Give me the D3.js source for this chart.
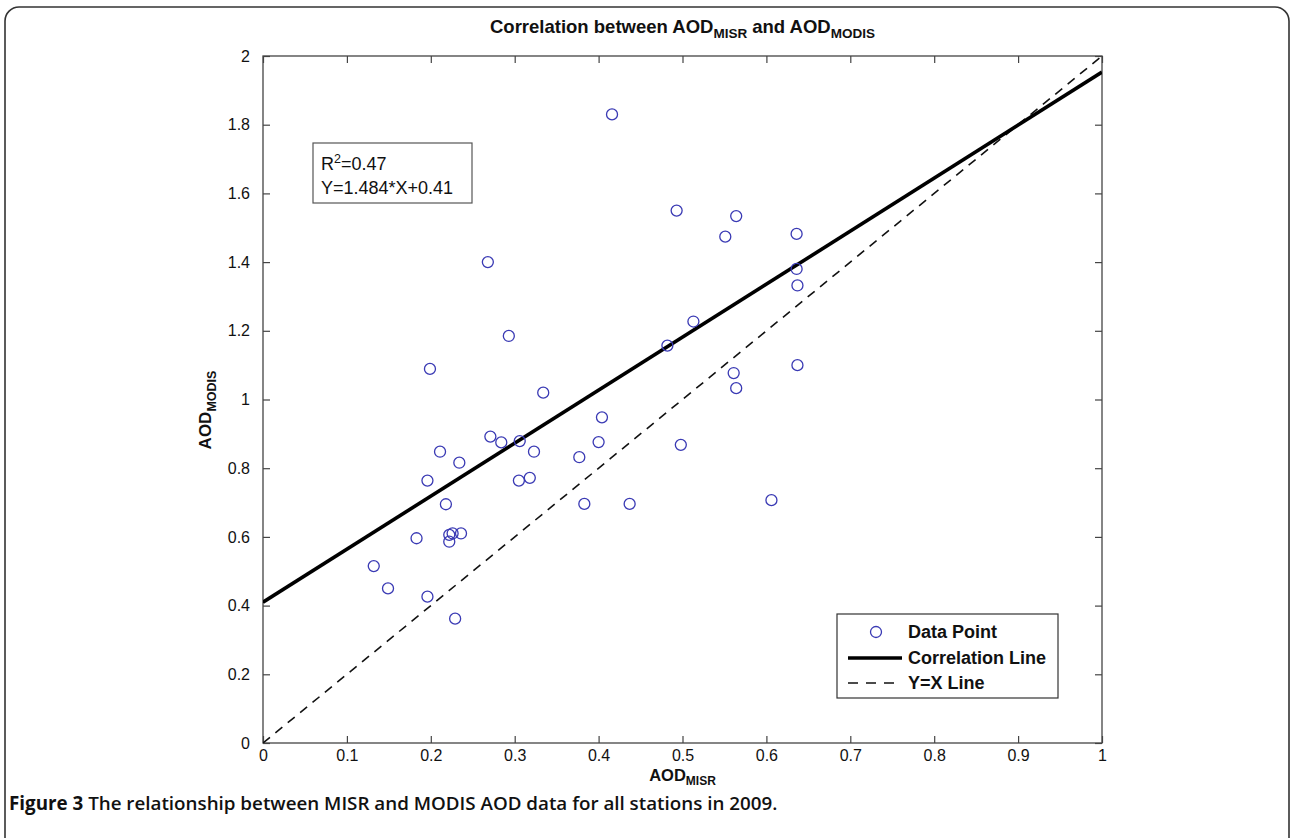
<!DOCTYPE html>
<html>
<head>
<meta charset="utf-8">
<script src="https://cdn.jsdelivr.net/npm/d3@7"></script>
<style>
  html, body { margin: 0; padding: 0; background: #fff; }
  svg { display: block; }
  text { font-family: "Liberation Sans", Arial, sans-serif; fill: #111; }
</style>
</head>
<body>
<svg id="chart" width="1292" height="838"></svg>
<script>
// ---- Data ----
const misr = [0.132,0.149,0.196,0.229,0.183,0.222,0.222,0.226,0.236,0.218,
              0.196,0.211,0.234,0.271,0.284,0.306,0.323,0.305,0.318,
              0.268,0.293,0.199,0.334,
              0.416,0.493,0.513,0.482,0.404,0.400,0.377,0.383,0.437,0.498,
              0.564,0.551,0.636,0.636,0.637,0.561,0.564,0.637,0.606];
const modis = [0.515,0.450,0.426,0.362,0.596,0.586,0.606,0.610,0.610,0.695,
               0.764,0.848,0.816,0.892,0.875,0.879,0.848,0.764,0.772,
               1.400,1.185,1.089,1.020,
               1.830,1.550,1.227,1.157,0.948,0.876,0.832,0.696,0.696,0.868,
               1.534,1.474,1.482,1.380,1.332,1.077,1.033,1.100,0.707];
const fitX = [0, 1];
const fitY = [0.41, 1.953];
const idX = [0, 1];
const idY = [0, 2];
const xTicks = [0,0.1,0.2,0.3,0.4,0.5,0.6,0.7,0.8,0.9,1];
const yTicks = [0,0.2,0.4,0.6,0.8,1,1.2,1.4,1.6,1.8,2];
const legendLabels = ["Data Point", "Correlation Line", "Y=X Line"];
const statLines = ["R", "Y=1.484*X+0.41"];

// ---- Layout ----
const svg = d3.select("#chart");
const L = 263, R = 1102, T = 56, B = 743;
const x = d3.scaleLinear().domain([0,1]).range([L,R]);
const y = d3.scaleLinear().domain([0,2]).range([B,T]);
const axisColor = "#444";
const blue = "#3a3ab4";

// outer frame
svg.append("rect").attr("x",5).attr("y",7).attr("width",1284).attr("height",860)
  .attr("rx",14).attr("fill","none").attr("stroke","#333").attr("stroke-width",1.6);

// axes
const tickLen = 7;
function styleAxis(g){
  g.selectAll(".domain").remove();
  g.selectAll(".tick line").attr("stroke",axisColor).attr("stroke-width",1.2);
  g.selectAll(".tick text").attr("font-size",16).attr("font-family","Liberation Sans, Arial, sans-serif").attr("fill","#111");
}
const fmt = d => d3.format("~g")(d);
svg.append("g").attr("transform",`translate(0,${B})`)
  .call(d3.axisBottom(x).tickValues(xTicks).tickFormat(fmt).tickSizeInner(-tickLen).tickSizeOuter(0).tickPadding(7))
  .call(styleAxis);
svg.append("g").attr("transform",`translate(0,${T})`)
  .call(d3.axisTop(x).tickValues(xTicks).tickFormat("").tickSizeInner(-tickLen).tickSizeOuter(0))
  .call(styleAxis);
svg.append("g").attr("transform",`translate(${L},0)`)
  .call(d3.axisLeft(y).tickValues(yTicks).tickFormat(fmt).tickSizeInner(-tickLen).tickSizeOuter(0).tickPadding(13))
  .call(styleAxis);
svg.append("g").attr("transform",`translate(${R},0)`)
  .call(d3.axisRight(y).tickValues(yTicks).tickFormat("").tickSizeInner(-tickLen).tickSizeOuter(0))
  .call(styleAxis);
// box
svg.append("rect").attr("x",L).attr("y",T).attr("width",R-L).attr("height",B-T)
  .attr("fill","none").attr("stroke",axisColor).attr("stroke-width",1.3);

// lines
svg.append("clipPath").attr("id","pa").append("rect")
  .attr("x",L).attr("y",T).attr("width",R-L).attr("height",B-T);
const line = d3.line().x(d=>x(d[0])).y(d=>y(d[1]));
svg.append("path").datum(idX.map((v,i)=>[v,idY[i]])).attr("d",line)
  .attr("fill","none").attr("stroke","#111").attr("stroke-width",1.6).attr("stroke-dasharray","9,7")
  .attr("clip-path","url(#pa)");
svg.append("path").datum(fitX.map((v,i)=>[v,fitY[i]])).attr("d",line)
  .attr("fill","none").attr("stroke","#000").attr("stroke-width",3.6)
  .attr("clip-path","url(#pa)");

// points
svg.append("g").selectAll("circle").data(misr.map((v,i)=>[v,modis[i]])).join("circle")
  .attr("cx",d=>x(d[0])).attr("cy",d=>y(d[1])).attr("r",5.5)
  .attr("fill","none").attr("stroke",blue).attr("stroke-width",1.3);

// title
const title = svg.append("text").attr("x",(L+R)/2).attr("y",33).attr("text-anchor","middle")
  .attr("font-size",18.5).attr("font-weight","bold");
title.append("tspan").text("Correlation between AOD");
title.append("tspan").attr("dy",5).attr("font-size",13.5).text("MISR");
title.append("tspan").attr("dy",-5).text(" and AOD");
title.append("tspan").attr("dy",5).attr("font-size",13.5).text("MODIS");

// x label
const xl = svg.append("text").attr("x",(L+R)/2).attr("y",781).attr("text-anchor","middle")
  .attr("font-size",16.5).attr("font-weight","bold");
xl.append("tspan").text("AOD");
xl.append("tspan").attr("dy",4).attr("font-size",12).text("MISR");

// y label
const yl = svg.append("text").attr("transform","translate(211,410) rotate(-90)").attr("text-anchor","middle")
  .attr("font-size",17).attr("font-weight","bold");
yl.append("tspan").text("AOD");
yl.append("tspan").attr("dy",5).attr("font-size",12.5).text("MODIS");

// stats box
svg.append("rect").attr("x",313).attr("y",143).attr("width",159).attr("height",60)
  .attr("fill","#fff").attr("stroke","#555").attr("stroke-width",1.2);
const s1 = svg.append("text").attr("x",321).attr("y",170).attr("font-size",18);
s1.append("tspan").text(statLines[0]);
s1.append("tspan").attr("dy",-7).attr("font-size",12.5).text("2");
s1.append("tspan").attr("dy",7).text("=0.47");
svg.append("text").attr("x",321).attr("y",194).attr("font-size",18).text(statLines[1]);

// legend
svg.append("rect").attr("x",837).attr("y",614).attr("width",221).attr("height",84)
  .attr("fill","#fff").attr("stroke","#333").attr("stroke-width",1.2);
const lg = svg.append("g");
const rowY = [632, 658, 683];
lg.append("circle").attr("cx",876).attr("cy",rowY[0]).attr("r",5.5)
  .attr("fill","none").attr("stroke",blue).attr("stroke-width",1.3);
lg.append("line").attr("x1",848).attr("x2",902).attr("y1",rowY[1]).attr("y2",rowY[1])
  .attr("stroke","#000").attr("stroke-width",3.6);
lg.append("line").attr("x1",848).attr("x2",902).attr("y1",rowY[2]).attr("y2",rowY[2])
  .attr("stroke","#111").attr("stroke-width",1.6).attr("stroke-dasharray","10,8");
lg.selectAll("text.lt").data(legendLabels).join("text").attr("class","lt")
  .attr("x",908).attr("y",(d,i)=>rowY[i]+6).attr("font-size",18).attr("font-weight","bold").text(d=>d);

// caption
const cap = svg.append("text").attr("x",9).attr("y",810)
  .attr("font-size",18.8).attr("font-weight",600)
  .style("font-family","'Open Sans', 'Noto Sans', sans-serif");
cap.append("tspan").attr("font-weight",700).text("Figure 3");
cap.append("tspan").text(" The relationship between MISR and MODIS AOD data for all stations in 2009.");
</script>
</body>
</html>
